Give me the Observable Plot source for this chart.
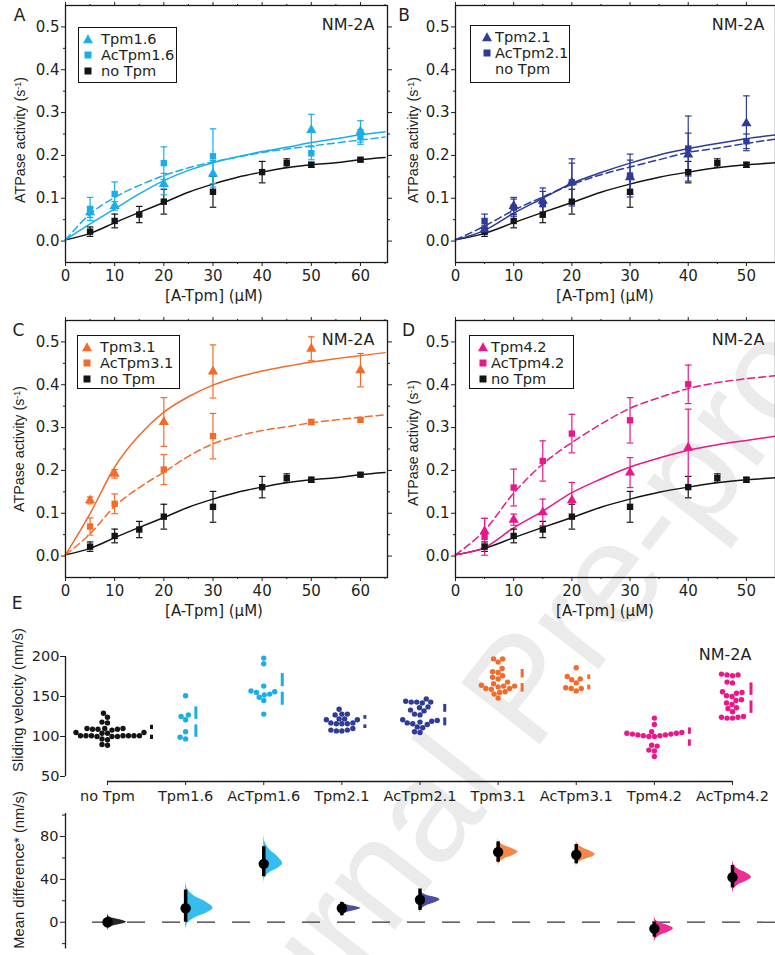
<!DOCTYPE html>
<html>
<head>
<meta charset="utf-8">
<script src="https://cdn.jsdelivr.net/npm/d3@7"></script>
<script src="https://cdn.jsdelivr.net/npm/@observablehq/plot@0.6"></script>
<style>
  html, body { margin: 0; padding: 0; background: #fff; }
  #fig { position: relative; width: 775px; height: 955px; overflow: hidden; background: #fff; color: #231f20; font-family: "DejaVu Sans", sans-serif; }
  #fig > svg { position: absolute; overflow: visible; }
  .t { position: absolute; white-space: nowrap; line-height: 1; }
  .v { font-family: "Liberation Sans", Arial, sans-serif; font-size: 14.3px; }
  .sup { position: relative; top: -0.45em; font-size: 0.62em; }
  .legend { position: absolute; border: 1.4px solid #111; box-sizing: border-box; }
</style>
</head>
<body>
<div id="fig"></div>
<script>
// ---------------- DATA ----------------
// ATPase kinetics (panels A-D)
const fitConc = [0, 5, 10, 15, 20, 25, 30, 35, 40, 45, 50, 55, 60, 65];

const noTpmConc = [5, 10, 15, 20, 30, 40, 45, 50, 60];
const noTpmRate = [0.022, 0.047, 0.062, 0.092, 0.115, 0.161, 0.182, 0.178, 0.190];
const noTpmErr  = [0.011, 0.016, 0.019, 0.029, 0.036, 0.025, 0.010, 0.006, 0.004];
const noTpmFit  = [0.003, 0.018, 0.043, 0.067, 0.090, 0.114, 0.133, 0.149, 0.161, 0.171, 0.178, 0.183, 0.190, 0.195];

const tpm16Conc   = [5, 10, 20, 30, 50, 60];
const tpm16Rate   = [0.067, 0.082, 0.133, 0.157, 0.259, 0.256];
const tpm16Err    = [0.012, 0.010, 0.025, 0.031, 0.037, 0.025];
const acTpm16Rate = [0.075, 0.110, 0.182, 0.198, 0.205, 0.243];
const acTpm16Err  = [0.027, 0.028, 0.038, 0.064, 0.015, 0.017];
const tpm16Fit    = [0.003, 0.040, 0.075, 0.110, 0.141, 0.165, 0.183, 0.197, 0.209, 0.219, 0.230, 0.239, 0.248, 0.255];
const acTpm16Fit  = [0.003, 0.063, 0.102, 0.130, 0.153, 0.171, 0.185, 0.196, 0.207, 0.215, 0.222, 0.229, 0.236, 0.243];

const tpm21Conc   = [5, 10, 15, 20, 30, 40, 50];
const tpm21Rate   = [0.027, 0.082, 0.094, 0.137, 0.149, 0.202, 0.275];
const tpm21Err    = [0.010, 0.020, 0.030, 0.045, 0.040, 0.050, 0.064];
const acTpm21Rate = [0.047, 0.078, 0.086, 0.137, 0.153, 0.216, 0.233];
const acTpm21Err  = [0.016, 0.020, 0.030, 0.055, 0.050, 0.076, 0.017];
const tpm21Fit    = [0.003, 0.025, 0.065, 0.100, 0.135, 0.160, 0.182, 0.201, 0.216, 0.228, 0.239, 0.248];
const acTpm21Fit  = [0.003, 0.035, 0.072, 0.103, 0.132, 0.155, 0.173, 0.190, 0.207, 0.217, 0.228, 0.238];

const tpm31Conc   = [5, 10, 20, 30, 50, 60];
const tpm31Rate   = [0.130, 0.192, 0.313, 0.431, 0.484, 0.434];
const tpm31Err    = [0.008, 0.010, 0.057, 0.062, 0.028, 0.039];
const acTpm31Rate = [0.069, 0.122, 0.202, 0.280, 0.313, 0.318];
const acTpm31Err  = [0.020, 0.023, 0.035, 0.053, 0.006, 0.005];
const tpm31Fit    = [0.003, 0.099, 0.208, 0.282, 0.336, 0.372, 0.399, 0.418, 0.432, 0.443, 0.453, 0.461, 0.468, 0.475];
const acTpm31Fit  = [0.003, 0.052, 0.116, 0.160, 0.196, 0.233, 0.262, 0.280, 0.293, 0.302, 0.311, 0.318, 0.324, 0.330];

const tpm42Conc   = [5, 10, 15, 20, 30, 40];
const tpm42Rate   = [0.058, 0.085, 0.102, 0.130, 0.195, 0.253];
const tpm42Err    = [0.030, 0.013, 0.031, 0.042, 0.035, 0.090];
const acTpm42Rate = [0.045, 0.160, 0.222, 0.286, 0.317, 0.401];
const acTpm42Err  = [0.043, 0.043, 0.047, 0.045, 0.053, 0.045];
const tpm42Fit    = [0.003, 0.020, 0.066, 0.105, 0.148, 0.180, 0.208, 0.229, 0.247, 0.260, 0.270, 0.280];
const acTpm42Fit  = [0.003, 0.060, 0.147, 0.215, 0.265, 0.308, 0.345, 0.370, 0.391, 0.405, 0.414, 0.421];

const rateTicks = [0, 0.1, 0.2, 0.3, 0.4, 0.5];

// Sliding velocity (panel E)
const groups = ["no Tpm", "Tpm1.6", "AcTpm1.6", "Tpm2.1", "AcTpm2.1", "Tpm3.1", "AcTpm3.1", "Tpm4.2", "AcTpm4.2"];
const velNoTpm   = [129, 124, 118, 117, 110, 110, 109, 109, 109, 110, 108, 105, 104, 105, 104, 101, 101, 101, 100, 101, 101, 100, 101, 100, 101, 97, 96, 90, 89];
const velTpm16   = [151, 127, 125, 121, 106, 99, 97];
const velAcTpm16 = [198, 191, 163, 157, 156, 155, 153, 152, 149, 145, 128];
const velTpm21   = [134, 128, 127, 128, 122, 121, 122, 121, 117, 116, 117, 116, 116, 110, 108, 107, 107, 108];
const velAcTpm21 = [147, 144, 143, 143, 142, 143, 137, 136, 133, 132, 128, 127, 121, 120, 119, 118, 117, 116, 115, 112, 111, 106, 105];
const velTpm31   = [197, 197, 193, 185, 181, 180, 176, 174, 172, 168, 166, 164, 163, 163, 162, 160, 160, 159, 156, 155, 153, 148];
const velAcTpm31 = [186, 175, 172, 171, 167, 161, 160, 160, 157];
const velTpm42   = [123, 115, 106, 105, 104, 104, 103, 103, 102, 102, 101, 101, 100, 100, 89, 88, 83, 82, 75];
const velAcTpm42 = [178, 177, 177, 176, 168, 167, 156, 155, 154, 151, 150, 146, 145, 142, 140, 136, 135, 131, 125, 124, 124, 123, 123];
const velocityTicks = [50, 100, 150, 200];

// Mean difference vs no Tpm with 95% CI and bootstrap distribution extent
const diffMean    = [0, 13, 54.5, 13, 21, 65.5, 63, -6, 42];
const diffCiLow   = [-4, 0, 42.5, 6, 11, 56, 54.5, -14, 32];
const diffCiHigh  = [4, 30, 70.5, 18.5, 31, 75, 72.5, 0, 53];
const bootLow     = [-8, -8, 36, 5, 8, 51, 51, -20, 26];
const bootHigh    = [8, 39, 84, 20, 31, 79, 78, 6, 59];
const bootDensity = [1, 1.45, 1, 1, 1.05, 1.05, 1, 1, 1];
const diffMajorTicks = [0, 40, 80];
const diffMinorTicks = [-20, 20, 60, 100];

// ---------------- STYLES ----------------
const C = { black: "#141414", cyan: "#1aaee8", navy: "#2e3b97", orange: "#f26b2a", magenta: "#e8178a" };
const groupColor = [C.black, C.cyan, C.cyan, C.navy, C.navy, C.orange, C.orange, C.magenta, C.magenta];
const violinColor = ["#262626", "#35bdf0", "#35bdf0", "#4a4fa3", "#4a4fa3", "#f5874b", "#f5874b", "#ec2e96", "#ec2e96"];

const fig = document.getElementById("fig");
const blank = () => "";
const capSymbol = { draw(ctx, size) { const w = Math.sqrt(size / Math.PI); ctx.moveTo(-w, 0); ctx.lineTo(w, 0); } };

function place(svg, left, top) {
  svg.style.position = "absolute";
  svg.style.left = left + "px";
  svg.style.top = top + "px";
  svg.style.background = "none";
  svg.style.maxWidth = "none";
  fig.appendChild(svg);
}
function text(html, x, y, cls = "", style = "", rotate = false) {
  const d = document.createElement("div");
  d.className = "t " + cls;
  d.innerHTML = html;
  d.style.cssText += `left:${x}px;top:${y}px;transform:translate(-50%,-50%)${rotate ? " rotate(-90deg)" : ""};` + style;
  fig.appendChild(d);
  return d;
}

// watermark (behind everything)
{
  const ns = "http://www.w3.org/2000/svg";
  const s = document.createElementNS(ns, "svg");
  s.setAttribute("width", 775); s.setAttribute("height", 955);
  s.style.cssText = "position:absolute;left:0;top:0;";
  const t = document.createElementNS(ns, "text");
  t.setAttribute("transform", "translate(215,1160) rotate(-52)");
  t.setAttribute("font-family", "Liberation Sans, Arial, sans-serif");
  t.setAttribute("font-size", 145);
  t.setAttribute("fill", "#ebebeb");
  t.textContent = "Journal Pre-proof";
  s.appendChild(t);
  fig.appendChild(s);
}

// ---------------- PANELS A-D ----------------
function kinetics(p) {
  const xMajor = d3.range(0, p.xMax + 1e-9, 10);
  const xMinor = d3.range(5, p.xMax, 10);
  const yMinor = [0.05, 0.15, 0.25, 0.35, 0.45];
  const marks = [
    Plot.axisX({ticks: xMajor, tickSize: 4, tickPadding: 4, tickFormat: d => String(d), label: null}),
    Plot.axisX({ticks: xMinor, tickSize: 2, tickFormat: blank, label: null}),
    Plot.axisX({anchor: "top", ticks: xMajor, tickSize: 4, tickFormat: blank, label: null}),
    Plot.axisX({anchor: "top", ticks: xMinor, tickSize: 2, tickFormat: blank, label: null}),
    Plot.axisY({ticks: rateTicks, tickSize: 4, tickPadding: 2, tickFormat: d3.format(".1f"), label: null}),
    Plot.axisY({ticks: yMinor, tickSize: 2, tickFormat: blank, label: null}),
    Plot.axisY({anchor: "right", ticks: rateTicks, tickSize: 4, tickFormat: blank, label: null}),
    Plot.axisY({anchor: "right", ticks: yMinor, tickSize: 2, tickFormat: blank, label: null})
  ];
  for (const s of p.series) {
    const rows = s.fit.map((y, i) => ({x: fitConc[i], y})).filter(d => d.x <= p.xMax);
    marks.push(Plot.line(rows, {x: "x", y: "y", stroke: s.color, strokeWidth: 1.5, curve: "monotone-x",
      strokeDasharray: s.dashed ? "7,4" : undefined}));
  }
  for (const s of p.series) {
    const rows = s.conc.map((x, i) => ({x, y: s.rate[i], e: s.err[i]})).filter(d => d.x <= p.xMax);
    marks.push(
      Plot.ruleX(rows, {x: "x", y1: d => d.y - d.e, y2: d => d.y + d.e, stroke: s.color, strokeWidth: 1.2}),
      Plot.dot(rows, {x: "x", y: d => d.y + d.e, symbol: capSymbol, r: 3.3, stroke: s.color, strokeWidth: 1.2, fill: "none"}),
      Plot.dot(rows, {x: "x", y: d => d.y - d.e, symbol: capSymbol, r: 3.3, stroke: s.color, strokeWidth: 1.2, fill: "none"})
    );
  }
  for (const s of p.series) {
    const rows = s.conc.map((x, i) => ({x, y: s.rate[i]})).filter(d => d.x <= p.xMax);
    marks.push(Plot.dot(rows, {x: "x", y: "y", symbol: s.symbol, r: s.symbol === "triangle" ? 3.8 : 3.6, fill: s.color, stroke: "none"}));
  }
  marks.push(Plot.frame({stroke: "#1a1a1a", strokeWidth: 1.3}));
  const svg = Plot.plot({
    width: p.width, height: 300,
    marginLeft: 65, marginRight: p.marginRight, marginTop: 5, marginBottom: 38,
    x: {domain: [0, p.xMax]},
    y: {domain: [-0.05, 0.55]},
    style: {fontFamily: "'DejaVu Sans', sans-serif", fontSize: "15px", color: "#231f20", background: "none", overflow: "visible"},
    marks
  });
  place(svg, p.left, p.top);

  // panel letter, NM-2A, axis labels
  text(p.letter, p.left + p.letterX, p.top + 15, "", "font-size:17px;");
  text("NM-2A", p.left + p.nmX, p.top + 25, "", "font-size:16px;");
  text("ATPase activity (s<span class='sup'>-1</span>)", p.left + p.yLabX, p.top + p.yLabY, "v", "", true);
  text("[A-Tpm] (&mu;M)", p.left + p.xLabX, p.top + 296, "", "font-size:15px;");

  // legend
  const lg = document.createElement("div");
  lg.className = "legend";
  lg.style.cssText += `left:${p.left + p.lg.x}px;top:${p.top + p.lg.y}px;width:${p.lg.w}px;height:${p.lg.h}px;`;
  const rowsY = [10.5, 27, 43];
  p.legendItems.forEach((it, i) => {
    if (it.symbol) {
      const ns = "http://www.w3.org/2000/svg";
      const s = document.createElementNS(ns, "svg");
      s.setAttribute("width", 12); s.setAttribute("height", 12);
      s.style.cssText = `position:absolute;left:${p.lg.mx - 6}px;top:${rowsY[i] - 6}px;`;
      const sh = document.createElementNS(ns, it.symbol === "triangle" ? "polygon" : "rect");
      if (it.symbol === "triangle") sh.setAttribute("points", "6,1.2 11,10.2 1,10.2");
      else { sh.setAttribute("x", 2.5); sh.setAttribute("y", 2.5); sh.setAttribute("width", 7); sh.setAttribute("height", 7); }
      sh.setAttribute("fill", it.color);
      s.appendChild(sh);
      lg.appendChild(s);
    }
    const d = document.createElement("div");
    d.className = "t";
    d.style.cssText = `left:${p.lg.tx}px;top:${rowsY[i]}px;transform:translateY(-50%);font-size:14.6px;line-height:14px;`;
    d.textContent = it.label;
    lg.appendChild(d);
  });
  fig.appendChild(lg);
}

const noTpmSeries = {conc: noTpmConc, rate: noTpmRate, err: noTpmErr, fit: noTpmFit, color: C.black, symbol: "square", dashed: false};

kinetics({
  letter: "A", left: 0, top: 0, width: 390, marginRight: 3, xMax: 65.5,
  letterX: 19.5, nmX: 348, yLabX: 20, yLabY: 140, xLabX: 214,
  series: [noTpmSeries,
    {conc: tpm16Conc, rate: tpm16Rate, err: tpm16Err, fit: tpm16Fit, color: C.cyan, symbol: "triangle", dashed: false},
    {conc: tpm16Conc, rate: acTpm16Rate, err: acTpm16Err, fit: acTpm16Fit, color: C.cyan, symbol: "square", dashed: true}],
  lg: {x: 78, y: 27, w: 99, h: 56, mx: 9, tx: 22},
  legendItems: [{label: "Tpm1.6", symbol: "triangle", color: C.cyan}, {label: "AcTpm1.6", symbol: "square", color: C.cyan}, {label: "no Tpm", symbol: "square", color: C.black}]
});
kinetics({
  letter: "B", left: 390, top: 0, width: 385, marginRight: 0, xMax: 55,
  letterX: 14, nmX: 348, yLabX: 23, yLabY: 140, xLabX: 215,
  series: [noTpmSeries,
    {conc: tpm21Conc, rate: tpm21Rate, err: tpm21Err, fit: tpm21Fit, color: C.navy, symbol: "triangle", dashed: false},
    {conc: tpm21Conc, rate: acTpm21Rate, err: acTpm21Err, fit: acTpm21Fit, color: C.navy, symbol: "square", dashed: true}],
  lg: {x: 80, y: 25, w: 100, h: 58, mx: 16, tx: 24},
  legendItems: [{label: "Tpm2.1", symbol: "triangle", color: C.navy}, {label: "AcTpm2.1", symbol: "square", color: C.navy}, {label: "no Tpm", symbol: null}]
});
kinetics({
  letter: "C", left: 0, top: 315, width: 390, marginRight: 3, xMax: 65.5,
  letterX: 18.5, nmX: 348, yLabX: 19, yLabY: 134, xLabX: 214,
  series: [noTpmSeries,
    {conc: tpm31Conc, rate: tpm31Rate, err: tpm31Err, fit: tpm31Fit, color: C.orange, symbol: "triangle", dashed: false},
    {conc: tpm31Conc, rate: acTpm31Rate, err: acTpm31Err, fit: acTpm31Fit, color: C.orange, symbol: "square", dashed: true}],
  lg: {x: 77, y: 20, w: 103, h: 54, mx: 9, tx: 22},
  legendItems: [{label: "Tpm3.1", symbol: "triangle", color: C.orange}, {label: "AcTpm3.1", symbol: "square", color: C.orange}, {label: "no Tpm", symbol: "square", color: C.black}]
});
kinetics({
  letter: "D", left: 390, top: 315, width: 385, marginRight: 0, xMax: 55,
  letterX: 18.5, nmX: 348, yLabX: 23, yLabY: 128, xLabX: 215,
  series: [noTpmSeries,
    {conc: tpm42Conc, rate: tpm42Rate, err: tpm42Err, fit: tpm42Fit, color: C.magenta, symbol: "triangle", dashed: false},
    {conc: tpm42Conc, rate: acTpm42Rate, err: acTpm42Err, fit: acTpm42Fit, color: C.magenta, symbol: "square", dashed: true}],
  lg: {x: 79, y: 20, w: 105, h: 54, mx: 13, tx: 21},
  legendItems: [{label: "Tpm4.2", symbol: "triangle", color: C.magenta}, {label: "AcTpm4.2", symbol: "square", color: C.magenta}, {label: "no Tpm", symbol: "square", color: C.black}]
});

// ---------------- PANEL E ----------------
const eXRange = [107, 732];
const eX = d3.scaleLinear([0, groups.length - 1], eXRange);
const pxPerGroup = (eXRange[1] - eXRange[0]) / (groups.length - 1);
const spineX = eX.invert(65);
const velDomain = [43.75, 200], velRange = [141, 16];
const kY = (velRange[0] - velRange[1]) / (velDomain[1] - velDomain[0]);
const velocities = [velNoTpm, velTpm16, velAcTpm16, velTpm21, velAcTpm21, velTpm31, velAcTpm31, velTpm42, velAcTpm42];

function beeswarm(values, diam) {
  const pts = values.map(v => ({v, py: v * kY})).sort((a, b) => a.v - b.v);
  const placed = [];
  for (const p of pts) {
    for (let s = 0; s < 800; s++) {
      const off = (s % 2 === 0 ? 1 : -1) * Math.ceil(s / 2) * 0.25;
      let ok = true;
      for (const q of placed) {
        const dx = q.off - off, dy = q.py - p.py;
        if (dx * dx + dy * dy < diam * diam) { ok = false; break; }
      }
      if (ok) { p.off = off; break; }
    }
    placed.push(p);
  }
  return placed;
}

const swarmRows = [], barRows = [];
velocities.forEach((vals, g) => {
  const pts = beeswarm(vals, 5.5);
  const maxOff = d3.max(pts, p => p.off);
  pts.forEach(p => swarmRows.push({g, x: g + p.off / pxPerGroup, v: p.v}));
  const m = d3.mean(vals), sd = d3.deviation(vals), gap = 3.5;
  const bx = g + (maxOff + 7.5) / pxPerGroup;
  barRows.push({g, x: bx, y1: m - sd, y2: m - gap}, {g, x: bx, y1: m + gap, y2: m + sd});
});

const eTop = Plot.plot({
  width: 775, height: 165, marginLeft: 65, marginRight: 0, marginTop: 0, marginBottom: 165 - velRange[0],
  x: {domain: [0, groups.length - 1], range: eXRange},
  y: {domain: velDomain, range: velRange},
  style: {fontFamily: "'DejaVu Sans', sans-serif", fontSize: "14.5px", color: "#231f20", background: "none", overflow: "visible"},
  marks: [
    Plot.ruleX([spineX], {y1: velocityTicks[0], y2: velocityTicks[velocityTicks.length - 1], stroke: "#1a1a1a", strokeWidth: 1.3}),
    Plot.axisY({ticks: velocityTicks, tickSize: 5, tickPadding: 1, label: null}),
    Plot.ruleY([velDomain[0]], {x1: 0, x2: groups.length - 1, stroke: "#1a1a1a", strokeWidth: 1.3}),
    Plot.axisX({ticks: d3.range(groups.length), tickFormat: i => groups[i], tickSize: 4, tickPadding: 5, label: null}),
    Plot.dot(swarmRows, {x: "x", y: "v", r: 2.7, fill: d => groupColor[d.g], stroke: "none"}),
    Plot.ruleX(barRows, {x: "x", y1: "y1", y2: "y2", stroke: d => groupColor[d.g], strokeWidth: 3})
  ]
});
place(eTop, 0, 640);

// mean difference panel
const diffDomain = [-25, 101.5], diffRange = [143.5, 8.0];
const violinProfile = [[-1, 0], [-0.7, 0.06], [-0.45, 0.3], [-0.22, 0.75], [0, 1], [0.22, 0.75], [0.45, 0.3], [0.7, 0.06], [1, 0]];
const violinWidthPx = 19;
const violinRows = [];
groups.forEach((name, g) => {
  violinProfile.forEach(([t, w]) => {
    const y = t < 0 ? diffMean[g] + t * (diffMean[g] - bootLow[g]) : diffMean[g] + t * (bootHigh[g] - diffMean[g]);
    violinRows.push({g, y, x1: g, x2: g + w * bootDensity[g] * violinWidthPx / pxPerGroup});
  });
});
const diffRows = groups.map((name, g) => ({g, m: diffMean[g], lo: diffCiLow[g], hi: diffCiHigh[g]}));

const eBot = Plot.plot({
  width: 775, height: 150, marginLeft: 65, marginRight: 0, marginTop: 0, marginBottom: 0,
  x: {domain: [0, groups.length - 1], range: eXRange, axis: null},
  y: {domain: diffDomain, range: diffRange},
  style: {fontFamily: "'DejaVu Sans', sans-serif", fontSize: "14.5px", color: "#231f20", background: "none", overflow: "visible"},
  marks: [
    Plot.ruleX([spineX], {y1: diffDomain[0], y2: diffDomain[1], stroke: "#1a1a1a", strokeWidth: 1.3}),
    Plot.axisY({ticks: diffMajorTicks, tickSize: 5, tickPadding: 2, label: null}),
    Plot.axisY({ticks: diffMinorTicks, tickSize: 3, tickFormat: blank, label: null}),
    Plot.ruleY([0], {x1: eX.invert(92), x2: eX.invert(778), stroke: "#333", strokeWidth: 1.2, strokeDasharray: "18,17"}),
    Plot.areaX(violinRows, {y: "y", x1: "x1", x2: "x2", z: "g", fill: d => violinColor[d.g], curve: "catmull-rom"}),
    Plot.ruleX(diffRows, {x: "g", y1: "lo", y2: "hi", stroke: "#000", strokeWidth: 3.5}),
    Plot.dot(diffRows, {x: "g", y: "m", r: 5.2, fill: "#000", stroke: "none"})
  ]
});
place(eBot, 0, 805);

text("E", 17, 603, "", "font-size:17px;");
text("NM-2A", 725, 655, "", "font-size:16px;");
text("Sliding velocity (nm/s)", 18, 700, "v", "font-size:14.8px;", true);
text("Mean difference* (nm/s)", 18.5, 870, "v", "font-size:14.8px;", true);
</script>
</body>
</html>
